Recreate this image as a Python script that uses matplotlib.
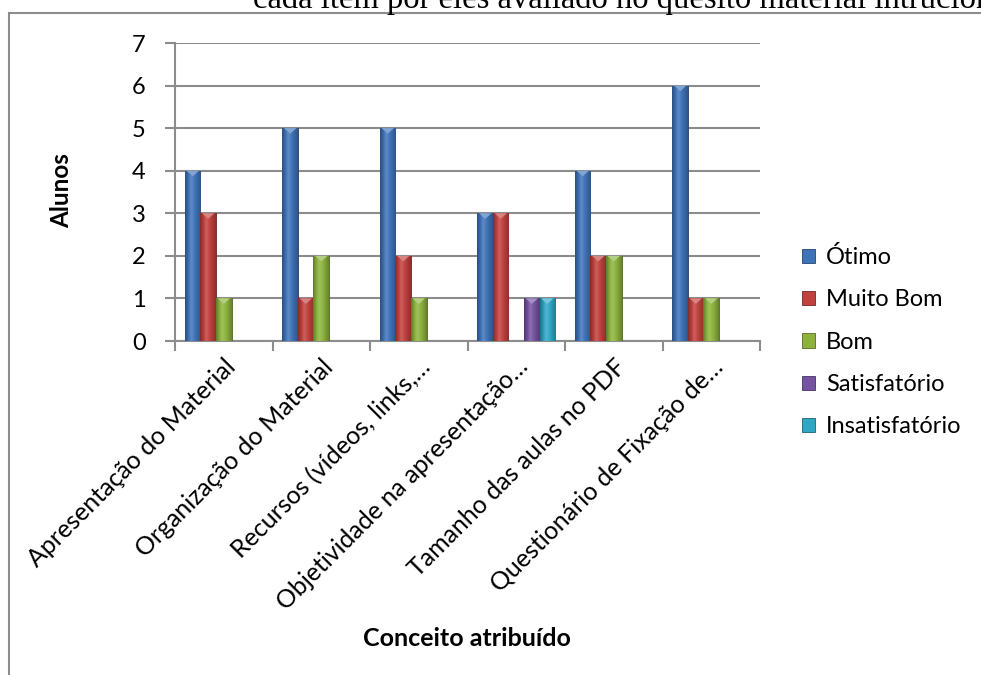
import numpy as np
import matplotlib
matplotlib.use("Agg")
import matplotlib.pyplot as plt
from matplotlib.patches import Patch, Rectangle
from matplotlib.colors import to_rgb

plt.rcParams['font.family'] = ['Lato', 'DejaVu Sans']

# categories and series
categorias = ["Apresentação do Material", "Organização do Material",
              "Recursos (vídeos, links,…", "Objetividade na apresentação…",
              "Tamanho das aulas no PDF", "Questionário de Fixação de…"]
series = ["Ótimo", "Muito Bom", "Bom", "Satisfatório", "Insatisfatório"]
otimo = [4, 5, 5, 3, 4, 6]
muito_bom = [3, 1, 2, 3, 2, 1]
bom = [1, 2, 1, 0, 2, 1]
satisfatorio = [0, 0, 0, 1, 0, 0]
insatisfatorio = [0, 0, 0, 1, 0, 0]
valores = [otimo, muito_bom, bom, satisfatorio, insatisfatorio]
cores = ["#3f73b8", "#c0413e", "#8db33e", "#7553a0", "#2fa6c4"]

fig = plt.figure(figsize=(9.81, 6.75), dpi=100)
ax = fig.add_axes([175 / 981, 1 - 341 / 675, 585 / 981, 298 / 675])

# outer chart frame (cut by the page edge on the right and bottom)
fig.patches.append(Rectangle((9 / 981, -0.1), 1.2, 1 - 13 / 675 + 0.1,
                             transform=fig.transFigure, fill=False,
                             edgecolor="#8c8c8c", linewidth=1.5))

# caption text cut at the top of the page
fig.text(253 / 981, 1 - 8 / 675, "cada item por eles avaliado no quesito material intrucional",
         family="Liberation Serif", fontsize=23.5, ha="left", va="baseline")


def shade(c, f):
    r = np.array(to_rgb(c))
    return np.clip(r * f, 0, 1) if f < 1 else np.clip(r + (1 - r) * (f - 1), 0, 1)


x = np.arange(len(categorias))
w = 0.159
for i, (vals, cor) in enumerate(zip(valores, cores)):
    pos = x + (i - 2) * w
    bars = ax.bar(pos, vals, width=w, color=cor, edgecolor=shade(cor, 0.55),
                  linewidth=0.6, zorder=3, label=series[i])
    for b in bars:
        h = b.get_height()
        if h <= 0:
            continue
        x0 = b.get_x()
        grad = np.array([shade(cor, f) for f in np.concatenate(
            [np.linspace(0.7, 1.15, 8), np.linspace(1.15, 0.75, 12)])])[None, :, :]
        im = ax.imshow(grad, extent=[x0, x0 + w, 0, h], aspect="auto",
                       interpolation="bilinear", zorder=3.5)
        im.set_clip_path(b)
        tri = plt.Polygon([[x0 + 0.1 * w, h], [x0 + 0.9 * w, h], [x0 + 0.5 * w, h - 0.13]],
                          closed=True, color=shade(cor, 1.35), zorder=4, lw=0)
        ax.add_patch(tri)

ax.set_xlim(-0.5, len(categorias) - 0.5)
ax.set_ylim(0, 7)
ax.set_yticks(range(8))
ax.yaxis.grid(True, color="#8c8c8c", linewidth=1.5, zorder=0)
ax.set_axisbelow(True)

for s in ["top", "right"]:
    ax.spines[s].set_visible(False)
for s in ["left", "bottom"]:
    ax.spines[s].set_color("#8c8c8c")
    ax.spines[s].set_linewidth(1.5)

ax.set_xticks(x)
ax.set_xticklabels(categorias, rotation=45, ha="right", rotation_mode="anchor", fontsize=18)
ax.set_xticks(np.arange(-0.5, len(categorias)), minor=True)
ax.tick_params(axis="x", which="major", length=0, pad=10)
ax.tick_params(axis="x", which="minor", length=7, width=1.5, color="#8c8c8c")
ax.tick_params(axis="y", length=7, width=1.5, color="#8c8c8c", pad=14, labelsize=17)

fig.text(62 / 981, 1 - 191 / 675, "Alunos", rotation=90, fontsize=17.5,
         fontweight="bold", ha="center", va="center")
fig.text(467 / 981, 1 - 638 / 675, "Conceito atribuído", fontsize=18,
         fontweight="bold", ha="center", va="center")

handles = [Patch(facecolor=c, edgecolor=shade(c, 0.6), linewidth=0.6) for c in cores]
fig.legend(handles, series, loc="upper left", bbox_to_anchor=(781 / 981, 1 - 225 / 675),
           frameon=False, fontsize=17, handlelength=0.55, handleheight=0.55,
           handletextpad=0.45, labelspacing=0.9)

fig.savefig("out.png", dpi=100)
